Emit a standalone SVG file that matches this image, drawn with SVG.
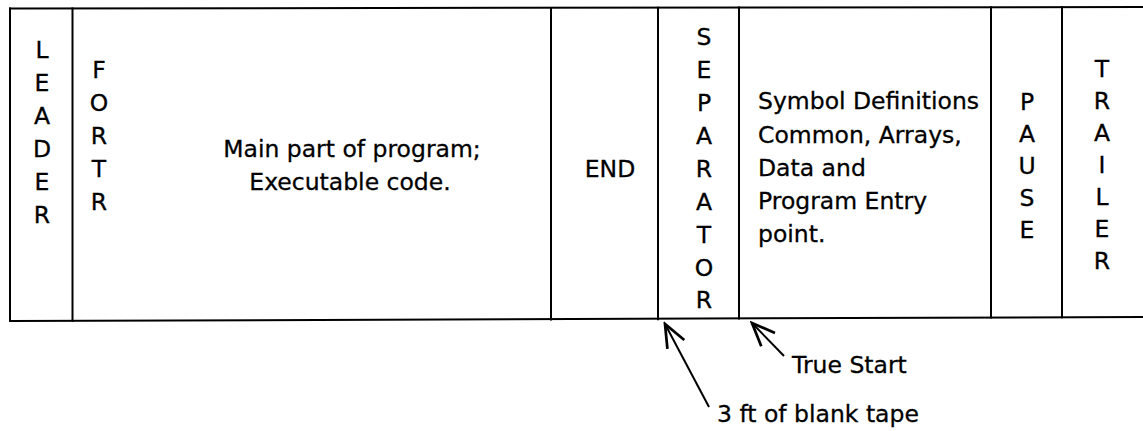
<svg xmlns="http://www.w3.org/2000/svg" width="1143" height="431" viewBox="0 0 1143 431">
<style>
  .t { font-family: "DejaVu Sans", "Liberation Sans", sans-serif; font-size: 23.5px; fill: #000; stroke: #000; stroke-width: 0.3px; }
  .c { text-anchor: middle; }
  .ln { stroke: #000; stroke-width: 2; fill: none; stroke-linecap: square; }
  .ar { stroke: #000; stroke-width: 2; fill: none; }
</style>
<defs>
  <marker id="ah" markerUnits="userSpaceOnUse" markerWidth="30" markerHeight="30" refX="0" refY="0" viewBox="-20 -10 22 20" orient="auto">
    <path d="M -17 -7 L 0 0 L -17 7" fill="none" stroke="#000" stroke-width="2"/>
  </marker>
</defs>
<rect width="1143" height="431" fill="#fff"/>
<g id="tape-frame">
  <line class="ln" x1="10" y1="8.5" x2="1143" y2="7"/>
  <line class="ln" x1="10" y1="321" x2="1143" y2="317"/>
</g>
<g id="leader">
  <line class="ln" x1="10" y1="8.5" x2="10" y2="321"/>
  <text class="t c"><tspan x="42" y="58">L</tspan><tspan x="42" y="91">E</tspan><tspan x="42" y="124">A</tspan><tspan x="42" y="157">D</tspan><tspan x="42" y="190">E</tspan><tspan x="42" y="223">R</tspan></text>
</g>
<g id="main-program">
  <line class="ln" x1="72.5" y1="8.4" x2="72.5" y2="320.8"/>
  <text class="t c"><tspan x="99" y="78">F</tspan><tspan x="99" y="111">O</tspan><tspan x="99" y="144">R</tspan><tspan x="99" y="177">T</tspan><tspan x="99" y="210">R</tspan></text>
  <text class="t c" x="352" y="157">Main part of program;</text>
  <text class="t c" x="350" y="190">Executable code.</text>
</g>
<g id="end">
  <line class="ln" x1="551" y1="7.9" x2="551" y2="319.6"/>
  <text class="t c" x="610" y="177">END</text>
</g>
<g id="separator">
  <line class="ln" x1="658" y1="7.8" x2="658" y2="319.2"/>
  <text class="t c"><tspan x="704" y="45">S</tspan><tspan x="704" y="78">E</tspan><tspan x="704" y="111">P</tspan><tspan x="704" y="144">A</tspan><tspan x="704" y="177">R</tspan><tspan x="704" y="210">A</tspan><tspan x="704" y="243">T</tspan><tspan x="704" y="276">O</tspan><tspan x="704" y="308">R</tspan></text>
</g>
<g id="symbol-definitions">
  <line class="ln" x1="739" y1="7.6" x2="739" y2="318.6"/>
  <text class="t"><tspan x="758" y="109">Symbol Definitions</tspan><tspan x="758" y="143">Common, Arrays,</tspan><tspan x="758" y="176">Data and</tspan><tspan x="758" y="209">Program Entry</tspan><tspan x="758" y="242">point.</tspan></text>
</g>
<g id="pause">
  <line class="ln" x1="991" y1="7.2" x2="991" y2="317.6"/>
  <text class="t c"><tspan x="1027" y="110">P</tspan><tspan x="1027" y="142">A</tspan><tspan x="1027" y="174">U</tspan><tspan x="1027" y="206">S</tspan><tspan x="1027" y="238">E</tspan></text>
</g>
<g id="trailer">
  <line class="ln" x1="1062" y1="7.1" x2="1062" y2="317.3"/>
  <text class="t c"><tspan x="1102" y="77">T</tspan><tspan x="1102" y="109">R</tspan><tspan x="1102" y="141">A</tspan><tspan x="1102" y="173">I</tspan><tspan x="1102" y="205">L</tspan><tspan x="1102" y="237">E</tspan><tspan x="1102" y="269">R</tspan></text>
</g>
<g id="connectors">
  <line class="ar" x1="709" y1="407" x2="665" y2="324" marker-end="url(#ah)"/>
  <line class="ar" x1="784" y1="356" x2="752" y2="323" marker-end="url(#ah)"/>
</g>
<g id="labels">
  <text class="t" x="792" y="373">True Start</text>
  <text class="t" x="717" y="422">3 ft of blank tape</text>
</g>
</svg>
